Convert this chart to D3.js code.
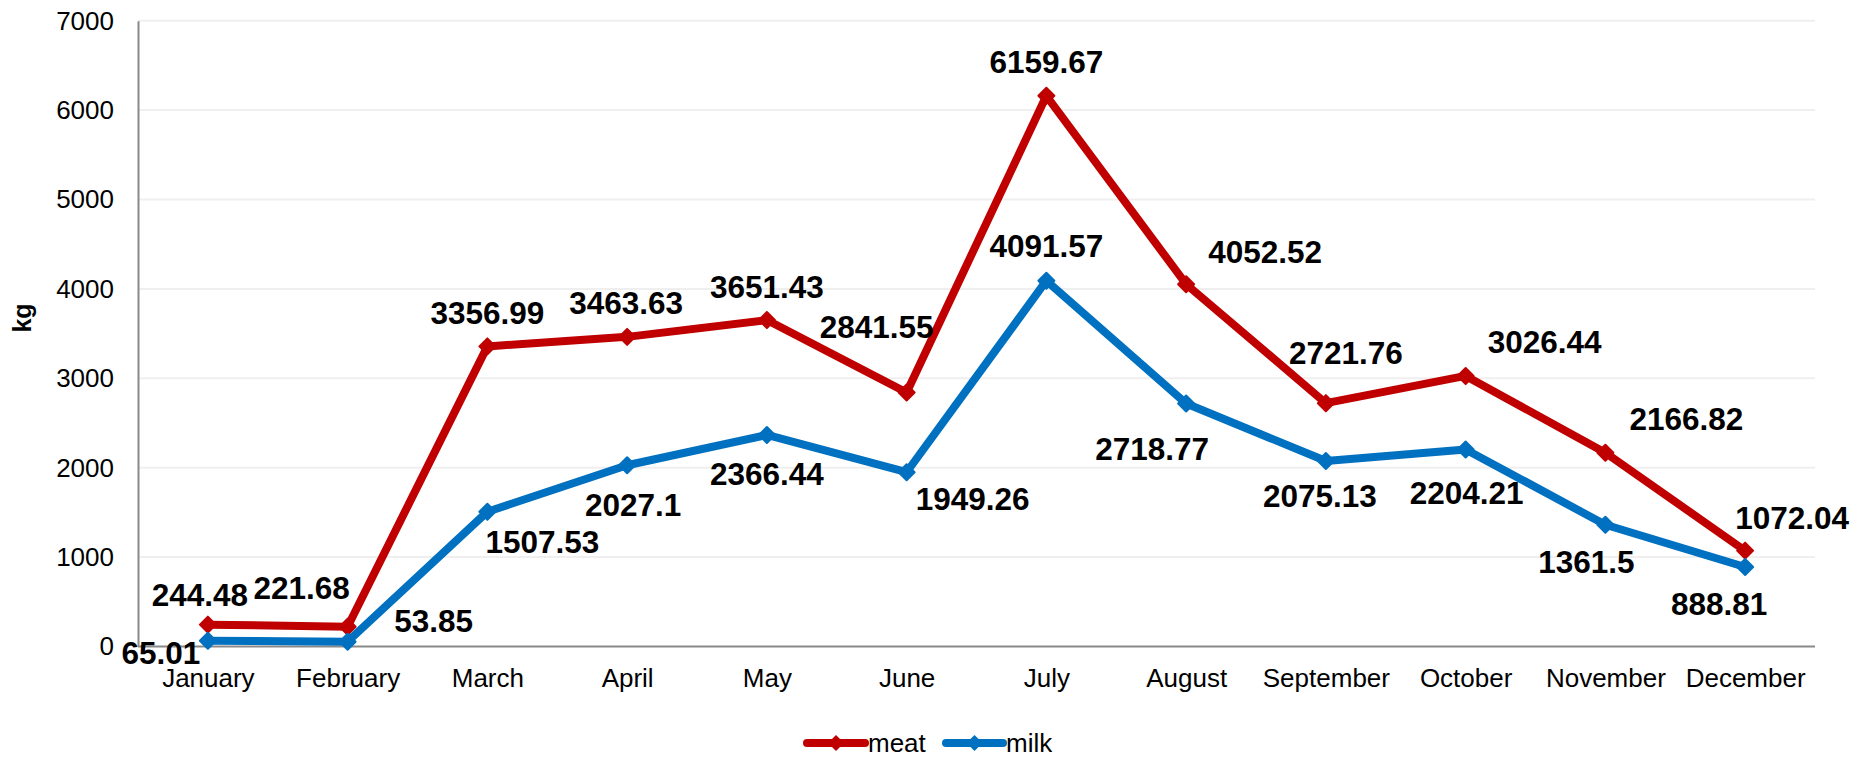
<!DOCTYPE html>
<html>
<head>
<meta charset="utf-8">
<script src="https://cdn.jsdelivr.net/npm/d3@7"></script>
<style>
html,body{margin:0;padding:0;background:#fff;}
svg{display:block;font-family:"Liberation Sans",Arial,sans-serif;}
</style>
</head>
<body>
<svg id="chart" width="1860" height="757"></svg>
<script>
// ---- data ----
const months = ["January","February","March","April","May","June","July","August","September","October","November","December"];
const meat = [244.48,221.68,3356.99,3463.63,3651.43,2841.55,6159.67,4052.52,2721.76,3026.44,2166.82,1072.04];
const milk = [65.01,53.85,1507.53,2027.1,2366.44,1949.26,4091.57,2718.77,2075.13,2204.21,1361.5,888.81];
const yTicks = [0,1000,2000,3000,4000,5000,6000,7000];
const seriesNames = ["meat","milk"];
const yTitle = "kg";

// ---- label placement (offsets of label centre from marker, px) ----
const meatLabelDx = [-8,-46,0,-1,0,-30,0,79,20,79,81,47];
const meatLabelDy = [-30,-39,-34,-34,-33,-66,-34,-33,-50,-34,-34,-33];
const milkLabelDx = [-47,86,55,6,0,66,0,-34,-6,1,-19,-26];
const milkLabelDy = [12,-21,30,39,39,26,-35,45,35,43,37,37];

const colors = {meat:"#C00000", milk:"#0070C0"};

const svg = d3.select("#chart");
const mLeft = 138, mRight = 1815, mTop = 20.7, mBottom = 646.5;

const x = d3.scalePoint().domain(months).range([mLeft,mRight]).padding(0.5);
const y = d3.scaleLinear().domain([0,7000]).range([mBottom,mTop]);

// gridlines
svg.append("g").selectAll("line").data(yTicks.filter(d=>d>0)).join("line")
  .attr("x1",mLeft).attr("x2",mRight)
  .attr("y1",d=>y(d)).attr("y2",d=>y(d))
  .attr("stroke","#EFEFEF").attr("stroke-width",2);

// y axis
const yAxis = d3.axisLeft(y).tickValues(yTicks).tickSize(0).tickPadding(24).tickFormat(d3.format("d"));
const gy = svg.append("g").attr("transform",`translate(${mLeft},0)`).call(yAxis);
gy.select(".domain").attr("stroke","#898989").attr("stroke-width",2);
gy.selectAll("text").attr("font-size",26).attr("fill","#000").attr("font-family","Liberation Sans, Arial, sans-serif");

// x axis
const xAxis = d3.axisBottom(x).tickSize(0).tickPadding(22);
const gx = svg.append("g").attr("transform",`translate(0,${mBottom})`).call(xAxis);
gx.select(".domain").attr("d",`M${mLeft},0H${mRight}`).attr("stroke","#898989").attr("stroke-width",2);
gx.selectAll("text").attr("font-size",26).attr("fill","#000").attr("font-family","Liberation Sans, Arial, sans-serif");

// y title
svg.append("text").attr("transform","translate(31,318) rotate(-90)")
  .attr("text-anchor","middle").attr("font-size",25).attr("font-weight","bold").text(yTitle);

const diamond = (s) => `M0,${-s}L${s},0L0,${s}L${-s},0Z`;

const series = [
  {name:seriesNames[0], values:meat, dx:meatLabelDx, dy:meatLabelDy},
  {name:seriesNames[1], values:milk, dx:milkLabelDx, dy:milkLabelDy}
];

const line = d3.line().x((d,i)=>x(months[i])).y(d=>y(d));

series.forEach(s=>{
  const g = svg.append("g");
  g.append("path").datum(s.values).attr("d",line)
    .attr("fill","none").attr("stroke",colors[s.name]).attr("stroke-width",8)
    .attr("stroke-linejoin","round").attr("stroke-linecap","round");
  g.selectAll("path.m").data(s.values).join("path").attr("class","m")
    .attr("transform",(d,i)=>`translate(${x(months[i])},${y(d)})`)
    .attr("d",diamond(8)).attr("fill",colors[s.name])
    .attr("stroke",colors[s.name]).attr("stroke-width",2).attr("stroke-linejoin","round");
});

// data labels
series.forEach(s=>{
  svg.append("g").selectAll("text").data(s.values).join("text")
    .attr("x",(d,i)=>x(months[i])+s.dx[i])
    .attr("y",(d,i)=>y(d)+s.dy[i]+11.3)
    .attr("text-anchor","middle").attr("font-size",31.5).attr("font-weight","bold")
    .attr("fill","#000").text(d=>d);
});

// legend
const legendItems = [
  {name:seriesNames[0], x1:807, x2:865},
  {name:seriesNames[1], x1:946, x2:1003}
];
const ly = 743;
const lg = svg.append("g");
legendItems.forEach(it=>{
  lg.append("line").attr("x1",it.x1).attr("x2",it.x2).attr("y1",ly).attr("y2",ly)
    .attr("stroke",colors[it.name]).attr("stroke-width",8).attr("stroke-linecap","round");
  lg.append("path").attr("transform",`translate(${(it.x1+it.x2)/2},${ly})`)
    .attr("d",diamond(8)).attr("fill",colors[it.name]);
  lg.append("text").attr("x",it.x2+3).attr("y",ly+9.3).attr("font-size",26).attr("fill","#000").text(it.name);
});
</script>
</body>
</html>
